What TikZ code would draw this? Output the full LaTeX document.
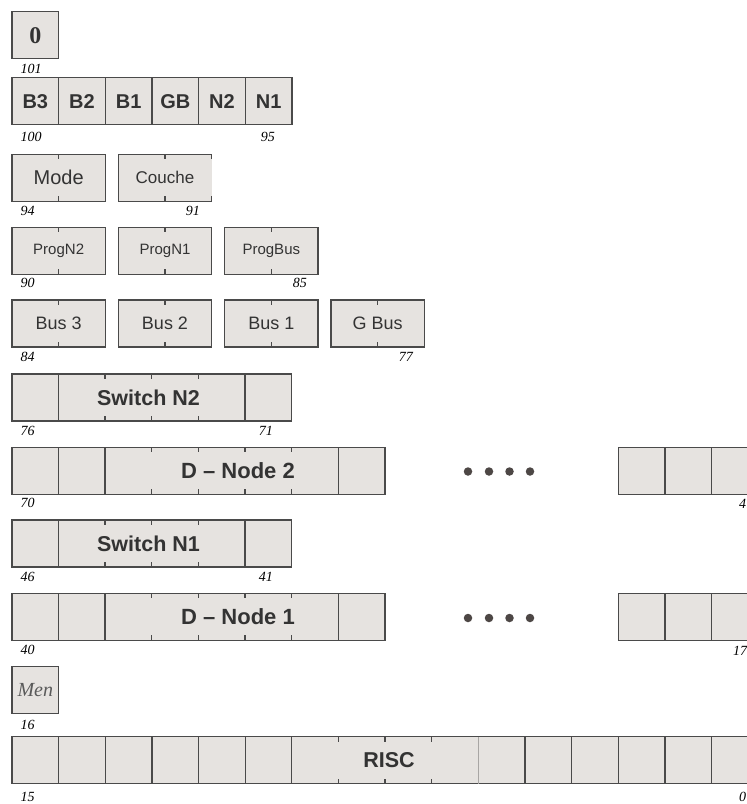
\documentclass[tikz,border=0pt]{standalone}
\usepackage{fontspec}
\setmainfont{Liberation Serif}
\setsansfont{Liberation Sans}
\usetikzlibrary{calc}
\definecolor{cellfill}{HTML}{E6E3E0}
\definecolor{bord}{HTML}{4A4A4A}
\definecolor{txt}{HTML}{333333}
\definecolor{dotcol}{HTML}{4D4745}
\definecolor{mencol}{HTML}{5A5A5A}
\tikzset{
  cellbox/.style={draw=bord, fill=cellfill, line width=1.3pt, inner sep=0pt, outer sep=0pt,
    anchor=north west, minimum height=47pt, minimum width=#1, text=txt},
  cellbox/.default=46.67pt,
  fillbox/.style={draw=none, fill=cellfill, inner sep=0pt, outer sep=0pt,
    anchor=north west, minimum height=47pt, minimum width=#1},
  tickline/.style={draw=bord, line width=1.2pt},
  edgeline/.style={draw=bord, line width=1.3pt},
  lbl/.style={font=\fontsize{14}{14}\selectfont\itshape, text=black, inner sep=0pt},
  dotnode/.style={circle, fill=dotcol, inner sep=0pt, minimum size=8.5pt},
  bigtxt/.style={font=\fontsize{21.5}{24}\selectfont\sffamily\bfseries, text=txt, inner sep=0pt},
  hdr/.style={font=\fontsize{20}{24}\selectfont\sffamily\bfseries},
  modef/.style={font=\fontsize{20}{24}\selectfont\sffamily},
  couchef/.style={font=\fontsize{17}{20}\selectfont\sffamily},
  progf/.style={font=\fontsize{15}{18}\selectfont\sffamily},
  busf/.style={font=\fontsize{18}{20}\selectfont\sffamily},
}
\begin{document}
\begin{tikzpicture}[x=1pt, y=-1pt]
\useasboundingbox (0,0) rectangle (747,804);
\clip (0,0) rectangle (747,804);
% row 0
\node[cellbox, font=\fontsize{24}{26}\selectfont\rmfamily\bfseries] (zero) at (12,11.7) {0};
\node[lbl, anchor=west] (l101) at (20.5,69) {101};
% row 1
\foreach \i/\t in {0/B3,1/B2,2/B1,3/GB,4/N2,5/N1}
  \node[cellbox, hdr] (b\i) at ({12+\i*46.67},77.7) {\t};
\node[lbl, anchor=west] (l100) at (20.5,136.7) {100};
\node[lbl, anchor=east] (l95) at (275,136.7) {95};
% row 2
\node[cellbox=93.34pt, modef] (mode) at (12,154.3) {Mode};
\node[fillbox=93.34pt, couchef, text=txt] (couche) at (118.3,154.3) {Couche};
\draw[edgeline] (couche.north east) -- (couche.north west) -- (couche.south west) -- (couche.south east);
\foreach \n in {mode,couche} {
  \draw[tickline] ($(\n.north west)+(46.67,0)$) -- ++(0,5);
  \draw[tickline] ($(\n.south west)+(46.67,0)$) -- ++(0,-5);
}
\draw[tickline] (couche.north east) -- ++(0,5);
\draw[tickline] (couche.south east) -- ++(0,-5);
\node[lbl, anchor=west] (l94) at (20.5,210.7) {94};
\node[lbl, anchor=east] (l91) at (200,210.7) {91};
% row 3
\foreach \i/\t in {0/ProgN2,1/ProgN1,2/ProgBus} {
  \node[cellbox=93.34pt, progf] (p\i) at ({12+\i*106.33},227.3) {\t};
  \draw[tickline] ($(p\i.north west)+(46.67,0)$) -- ++(0,5);
  \draw[tickline] ($(p\i.south west)+(46.67,0)$) -- ++(0,-5);
}
\node[lbl, anchor=west] (l90) at (20.5,283.3) {90};
\node[lbl, anchor=east] (l85) at (307,283.3) {85};
% row 4
\foreach \i/\t in {0/Bus 3,1/Bus 2,2/Bus 1,3/G Bus} {
  \node[cellbox=93.34pt, busf] (bus\i) at ({12+\i*106.33},300) {\t};
  \draw[tickline] ($(bus\i.north west)+(46.67,0)$) -- ++(0,5);
  \draw[tickline] ($(bus\i.south west)+(46.67,0)$) -- ++(0,-5);
}
\node[lbl, anchor=west] (l84) at (20.5,356.7) {84};
\node[lbl, anchor=east] (l77) at (413,356.7) {77};
% row 5 : Switch N2
\node[cellbox] (s2a) at (12,374) {};
\node[cellbox=186.68pt] (s2) at (58.3,374) {};
\node[cellbox] (s2b) at (245,374) {};
\foreach \k in {1,2,3} {
  \draw[tickline] ($(s2.north west)+(\k*46.67,0)$) -- ++(0,5);
  \draw[tickline] ($(s2.south west)+(\k*46.67,0)$) -- ++(0,-5);
}
\node[bigtxt] (s2t) at (148.5,397.7) {Switch N2};
\node[lbl, anchor=west] (l76) at (20.5,430.7) {76};
\node[lbl, anchor=east] (l71) at (273,430.7) {71};
% row 6 : D-Node 2
\node[cellbox] (d2a) at (12,447.3) {};
\node[cellbox] (d2b) at (58.3,447.3) {};
\node[cellbox=233.35pt] (d2) at (105,447.3) {};
\node[cellbox] (d2c) at (338.3,447.3) {};
\foreach \k in {1,2,3,4} {
  \draw[tickline] ($(d2.north west)+(\k*46.67,0)$) -- ++(0,5);
  \draw[tickline] ($(d2.south west)+(\k*46.67,0)$) -- ++(0,-5);
}
\node[bigtxt, font=\fontsize{22}{24}\selectfont\sffamily\bfseries] (d2t) at (238,470.8) {D – Node 2};
\foreach \i/\x in {1/468,2/489,3/509.5,4/530}
  \node[dotnode] (d2dot\i) at (\x,471.5) {};
\foreach \i in {0,1,2}
  \node[cellbox] (d2r\i) at ({618.3+\i*46.67},447.3) {};
\node[lbl, anchor=west] (l70) at (20.5,502.7) {70};
\node[lbl, anchor=west] (l47) at (739,504) {47};
% row 7 : Switch N1
\node[cellbox] (s1a) at (12,520) {};
\node[cellbox=186.68pt] (s1) at (58.3,520) {};
\node[cellbox] (s1b) at (245,520) {};
\foreach \k in {1,2,3} {
  \draw[tickline] ($(s1.north west)+(\k*46.67,0)$) -- ++(0,5);
  \draw[tickline] ($(s1.south west)+(\k*46.67,0)$) -- ++(0,-5);
}
\node[bigtxt] (s1t) at (148.5,543.7) {Switch N1};
\node[lbl, anchor=west] (l46) at (20.5,576.7) {46};
\node[lbl, anchor=east] (l41) at (273,576.7) {41};
% row 8 : D-Node 1
\node[cellbox] (d1a) at (12,593.3) {};
\node[cellbox] (d1b) at (58.3,593.3) {};
\node[cellbox=233.35pt] (d1) at (105,593.3) {};
\node[cellbox] (d1c) at (338.3,593.3) {};
\foreach \k in {1,2,3,4} {
  \draw[tickline] ($(d1.north west)+(\k*46.67,0)$) -- ++(0,5);
  \draw[tickline] ($(d1.south west)+(\k*46.67,0)$) -- ++(0,-5);
}
\node[bigtxt, font=\fontsize{22}{24}\selectfont\sffamily\bfseries] (d1t) at (238,616.8) {D – Node 1};
\foreach \i/\x in {1/468,2/489,3/509.5,4/530}
  \node[dotnode] (d1dot\i) at (\x,618) {};
\foreach \i in {0,1,2}
  \node[cellbox] (d1r\i) at ({618.3+\i*46.67},593.3) {};
\node[lbl, anchor=west] (l40) at (20.5,650) {40};
\node[lbl, anchor=west] (l17) at (733,651) {17};
% row 9 : Men
\node[cellbox, font=\fontsize{20}{22}\selectfont\rmfamily\itshape, text=mencol] (men) at (12,666.7) {Men};
\node[lbl, anchor=west] (l16) at (20.5,725) {16};
% row 10 : RISC
\foreach \i in {0,...,5}
  \node[cellbox] (ra\i) at ({12+\i*46.67},736.7) {};
\node[cellbox=186.68pt] (risc) at (291.7,736.7) {};
\foreach \k in {1,2,3} {
  \draw[tickline] ($(risc.north west)+(\k*46.67,0)$) -- ++(0,5);
  \draw[tickline] ($(risc.south west)+(\k*46.67,0)$) -- ++(0,-5);
}
\foreach \i in {0,...,5}
  \node[cellbox] (rb\i) at ({478.3+\i*46.67},736.7) {};
\draw[draw=cellfill!60!bord, line width=1pt] (rb0.north west) -- (rb0.south west);
\draw[edgeline] ($(rb0.north west)+(-0.7,0)$) -- ($(rb0.north west)+(0.7,0)$);
\node[bigtxt] (risct) at (389,760.5) {RISC};
\node[lbl, anchor=west] (l15) at (20.5,796.7) {15};
\node[lbl, anchor=west] (l0) at (739,797) {0};
\end{tikzpicture}
\end{document}
